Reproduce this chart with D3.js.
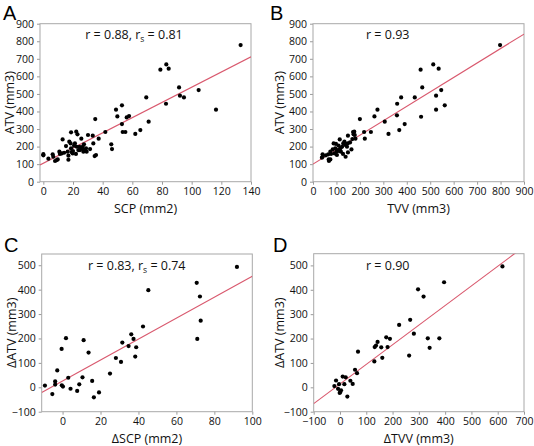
<!DOCTYPE html>
<html><head><meta charset="utf-8">
<script src="https://cdn.jsdelivr.net/npm/d3@7"></script>
<style>body{margin:0;background:#fff}svg{display:block}</style>
</head><body>
<script>
// Panel A: SCP vs ATV
const aSCP = [0,0,3.4,6.3,6.7,7.9,9,9.7,10.8,11.2,12.4,13,15.3,16.4,16.9,16.9,17.5,18.4,18.7,18.7,19,19.8,20.7,21.3,22,22.2,23,22.5,23.6,24.3,24.7,25.6,26.5,27,27.4,28,28.8,29.2,30.1,31.5,33.3,33.7,34.6,35,35.5,37.3,41.8,45.8,46.3,49,49.9,53,53,53.5,55.3,56.2,57.8,62,65.4,69.4,71,78.9,82.9,84.5,82.7,91.5,92.1,94.8,104.7,116.4,133,20,14,26];
const aATV = [157,150,131,156,142,118,123,127,171,158,161,241,203,171,148,125,228,218,281,190,169,161,205,218,158,285,270,199,180,199,180,245,199,171,213,180,190,171,266,186,262,218,146,357,152,245,283,213,186,410,372,435,328,283,283,366,374,272,294,480,342,638,668,644,444,537,490,480,522,410,778,175,165,190];
// Panel B: TVV vs ATV
const bTVV = [41,41,38,65,67,68,74,74,77,84,88,92,95,98,101,102,107,109,114,117,119,124,128,129,134,138,139,145,148,149,149,158,164,168,171,173,176,178,181,200,218,221,247,262,275,306,322,359,358,368,376,391,434,459,461,466,513,525,525,536,547,562,798,55,112];
const bATV = [156,142,137,156,127,118,127,171,158,184,218,161,190,215,171,152,180,205,241,190,171,199,158,218,228,209,142,199,218,262,167,224,184,243,283,270,285,266,245,357,283,245,283,372,410,342,272,444,378,294,480,328,480,638,370,537,668,490,410,644,522,435,778,150,175];
// Panel C: ΔSCP vs ΔATV
const cDSCP = [-9.3,-5.4,-3.9,-3.9,-2.8,-0.5,-0.4,0.2,1.8,3,4.2,7.7,8.8,10.5,11.1,13.7,15.6,16.5,19.2,25,28.1,30.8,31.5,34.8,36.2,37.4,38.3,38.8,42.4,45.2,70.7,71,72.4,72.8,91.9];
const cDATV = [7,-28,24,11,69,157,8,3,201,39,-6,-15,12,41,193,142,26,-41,-21,56,120,104,183,169,217,198,126,164,249,398,428,198,372,273,493];
// Panel D: ΔTVV vs ΔATV
const dDTVV = [-21.4,-15,-7.4,-3.6,-1.1,1.4,4,10.3,16.6,21.7,28,39.5,48.3,57.2,64.8,68.6,130.7,132,137,143,157,161,176,181,190,225,263,267,281,297,318,334,341,378,396,618];
const dDATV = [5,28,-6,13,-23,-19,-12,44,13,41,-38,27,14,72,58,146,106,165,171,186,164,121,205,165,199,256,130,277,220,402,372,201,162,201,431,496];

// Fitted lines (intercept, slope)
const fitA = [105, 4.33];
const fitB = [100, 0.823];
const fitC = [26, 4.29];
const fitD = [13.5, 0.805];

// Tick labels
const ticksA_x = [0,20,40,60,80,100,120,140];
const ticksAB_y = [0,100,200,300,400,500,600,700,800,900];
const ticksB_x = [0,100,200,300,400,500,600,700,800,900];
const ticksC_x = [0,20,40,60,80,100];
const ticksCD_y = [-100,0,100,200,300,400,500];
const ticksD_x = [-100,0,100,200,300,400,500,600,700];

const W = 534, H = 446;
const svg = d3.select("body").append("svg").attr("width", W).attr("height", H);
const FONT = "'Open Sans', 'DejaVu Sans', sans-serif";

const panels = [
  {id:"A", letter:[3,20], box:[40,251,23.7,181.7], xd:[-2.25,140], yd:[0,900], xs:aSCP, ys:aATV, fit:fitA,
   xt:ticksA_x, yt:ticksAB_y, xlab:["SCP (mm2)"], ylab:"ATV (mm3)", ann:{x:134, y:39, anchor:"middle", r:"0.88", rs:"0.81"}, ylx:14},
  {id:"B", letter:[270,20], box:[313,524,23.7,181.7], xd:[0,900], yd:[0,900], xs:bTVV, ys:bATV, fit:fitB,
   xt:ticksB_x, yt:ticksAB_y, xlab:["TVV (mm3)"], ylab:"ATV (mm3)", ann:{x:366, y:39, anchor:"start", r:"0.93"}, ylx:284},
  {id:"C", letter:[4,252], box:[41.7,252.3,254,411.7], xd:[-11,100], yd:[-100,546], xs:cDSCP, ys:cDATV, fit:fitC,
   xt:ticksC_x, yt:ticksCD_y, xlab:["ΔSCP (mm2)"], ylab:"ΔATV (mm3)", ann:{x:88, y:270, anchor:"start", r:"0.83", rs:"0.74"}, ylx:16},
  {id:"D", letter:[273,252], box:[313.7,524,253.7,411.7], xd:[-100,700], yd:[-100,548], xs:dDTVV, ys:dDATV, fit:fitD,
   xt:ticksD_x, yt:ticksCD_y, xlab:["ΔTVV (mm3)"], ylab:"ΔATV (mm3)", ann:{x:366, y:270, anchor:"start", r:"0.90"}, ylx:284}
];

panels.forEach(p => {
  const [l, r, t, b] = p.box;
  const x = d3.scaleLinear().domain(p.xd).range([l, r]);
  const y = d3.scaleLinear().domain(p.yd).range([b, t]);
  const g = svg.append("g");

  // letter
  g.append("text").attr("x", p.letter[0]).attr("y", p.letter[1])
    .attr("font-family", "'Liberation Sans', Arial, sans-serif").attr("font-size", 20).attr("fill", "#000").text(p.id);

  // axes
  const xAxis = d3.axisBottom(x).tickValues(p.xt).tickSize(3).tickSizeOuter(0).tickPadding(3);
  const yAxis = d3.axisLeft(y).tickValues(p.yt).tickSize(3).tickSizeOuter(0).tickPadding(3);
  const gx = g.append("g").attr("transform", `translate(0,${b})`).call(xAxis);
  const gy = g.append("g").attr("transform", `translate(${l},0)`).call(yAxis);
  [gx, gy].forEach(a => {
    a.select(".domain").remove();
    a.selectAll("line").attr("stroke", "#9a9a9a");
    a.selectAll("text").attr("font-family", FONT).attr("font-size", 10.5).attr("fill", "#111");
  });

  // frame
  g.append("rect").attr("x", l).attr("y", t).attr("width", r - l).attr("height", b - t)
    .attr("fill", "none").attr("stroke", "#a8a8a8").attr("stroke-width", 1);

  // clip
  const cid = "clip" + p.id;
  svg.append("clipPath").attr("id", cid).append("rect")
    .attr("x", l).attr("y", t).attr("width", r - l).attr("height", b - t);

  // fit line
  const [ic, sl] = p.fit;
  g.append("line").attr("clip-path", `url(#${cid})`)
    .attr("x1", x(p.xd[0])).attr("y1", y(ic + sl * p.xd[0]))
    .attr("x2", x(p.xd[1])).attr("y2", y(ic + sl * p.xd[1]))
    .attr("stroke", "#d9596e").attr("stroke-width", 1.1);

  // points
  g.append("g").selectAll("circle").data(p.xs.map((v, i) => [v, p.ys[i]])).join("circle")
    .attr("cx", d => x(d[0])).attr("cy", d => y(d[1])).attr("r", 2.1).attr("fill", "#000");

  // axis titles
  g.append("text").attr("x", (l + r) / 2).attr("y", b + 31).attr("text-anchor", "middle")
    .attr("font-family", FONT).attr("font-size", 12.5).attr("fill", "#111").text(p.xlab[0]);
  g.append("text").attr("transform", `translate(${p.ylx},${(t + b) / 2}) rotate(-90)`)
    .attr("text-anchor", "middle").attr("font-family", FONT).attr("font-size", 12.5).attr("fill", "#111").text(p.ylab);

  // annotation
  const a = g.append("text").attr("x", p.ann.x).attr("y", p.ann.y).attr("text-anchor", p.ann.anchor)
    .attr("font-family", FONT).attr("font-size", 12.5).attr("fill", "#111");
  a.append("tspan").text("r = " + p.ann.r + (p.ann.rs ? ", r" : ""));
  if (p.ann.rs) {
    a.append("tspan").attr("font-size", 8.5).attr("dy", 3).text("s");
    a.append("tspan").attr("dy", -3).text(" = " + p.ann.rs);
  }
});
</script>
</body></html>
